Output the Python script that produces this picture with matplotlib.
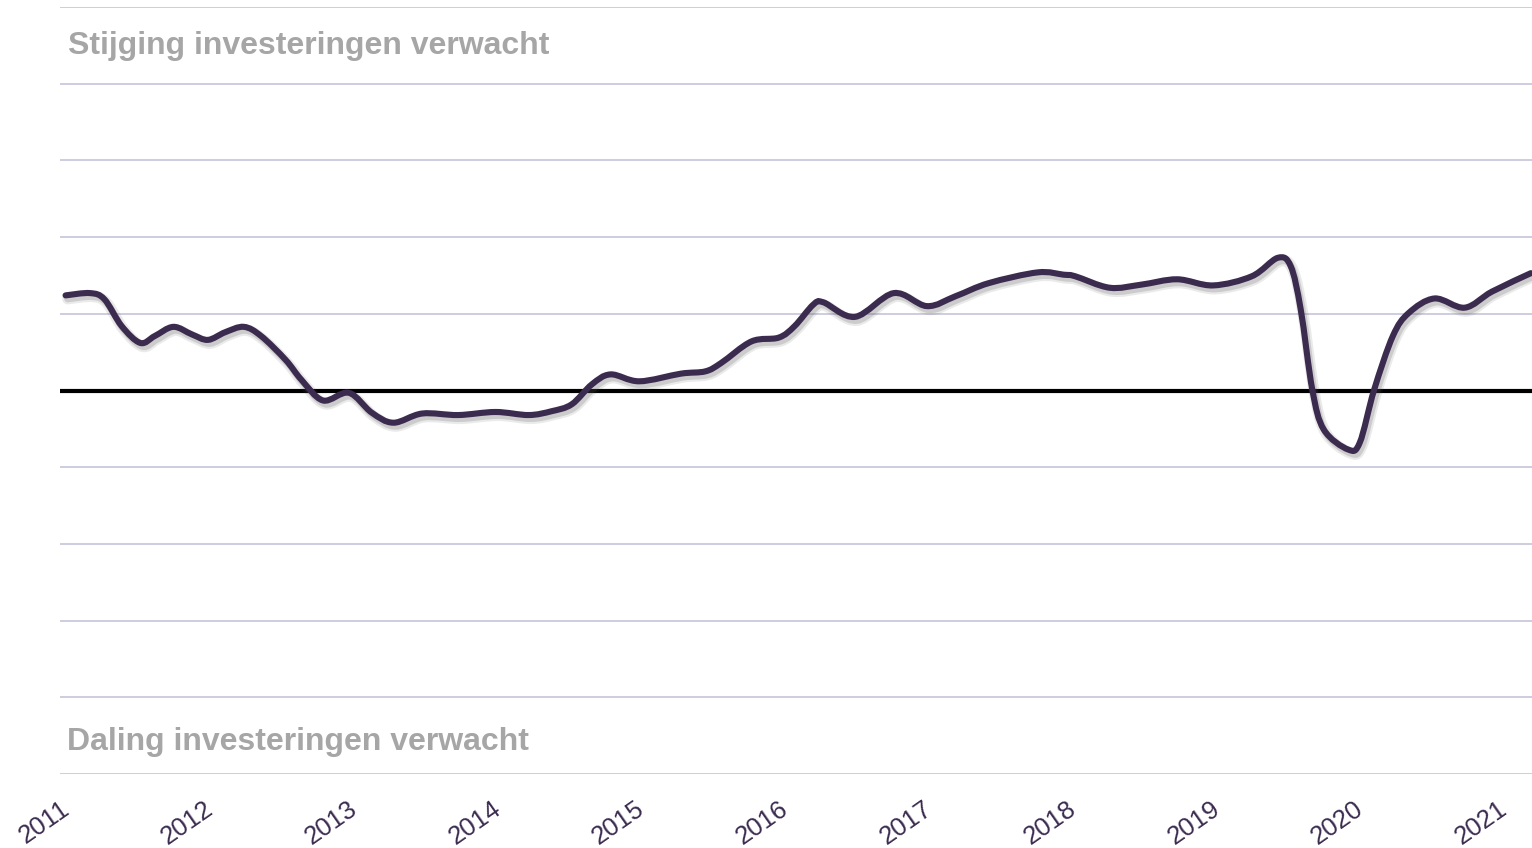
import numpy as np
import matplotlib
matplotlib.use("Agg")
import matplotlib.pyplot as plt
from matplotlib.path import Path
from matplotlib.patches import PathPatch
from matplotlib.transforms import ScaledTranslation
import matplotlib.patheffects as pe

plt.rcParams['font.family'] = ['Liberation Sans', 'DejaVu Sans']

# --- data (decimal year, indicator value) ---
years = [2010.99, 2011.16, 2011.26, 2011.38, 2011.51, 2011.61, 2011.74, 2011.87,
         2011.98, 2012.10, 2012.23, 2012.35, 2012.52, 2012.63, 2012.78, 2012.96,
         2013.12, 2013.27, 2013.47, 2013.72, 2013.98, 2014.21, 2014.37, 2014.51,
         2014.65, 2014.78, 2014.98, 2015.27, 2015.44, 2015.55, 2015.76, 2015.95,
         2016.06, 2016.19, 2016.26, 2016.48, 2016.75, 2016.98, 2017.18, 2017.41,
         2017.75, 2017.93, 2018.01, 2018.25, 2018.47, 2018.72, 2018.97, 2019.24,
         2019.42, 2019.51, 2019.58, 2019.66, 2019.74, 2019.91, 2019.99, 2020.09,
         2020.22, 2020.33, 2020.51, 2020.72, 2020.91, 2021.18]
values = [1.24, 1.27, 1.19, 0.84, 0.62, 0.71, 0.83, 0.73,
          0.66, 0.76, 0.83, 0.71, 0.40, 0.14, -0.13, -0.03,
          -0.29, -0.42, -0.30, -0.32, -0.28, -0.32, -0.27, -0.18,
          0.08, 0.21, 0.12, 0.22, 0.25, 0.36, 0.64, 0.69,
          0.84, 1.12, 1.15, 0.96, 1.27, 1.10, 1.23, 1.40,
          1.54, 1.51, 1.49, 1.34, 1.38, 1.45, 1.37, 1.49,
          1.73, 1.62, 1.05, 0.01, -0.51, -0.77, -0.68, 0.01,
          0.71, 1.01, 1.20, 1.08, 1.29, 1.53]
tick_years = list(range(2011, 2022))
tick_labels = [str(y) for y in tick_years]
label_top = "Stijging investeringen verwacht"
label_bottom = "Daling investeringen verwacht"

LINE_COLOR = '#3b2b4f'
GRID_COLOR = '#c6c4da'
TEXT_GRAY = '#a6a6a6'

fig = plt.figure(figsize=(15.32, 8.48), dpi=100)
ax = fig.add_axes([60/1532, 1-774/848, 1-60/1532, (774-7)/848])

ax.set_xlim(2011 - 7/143.8, 2011 + 1465/143.8)
ax.set_ylim(-5, 5)

for yv in range(-5, 6):
    if yv == 0:
        continue
    ax.axhline(yv, color=GRID_COLOR, lw=1.2, zorder=1)
ax.axhline(0, color='black', lw=3.0, zorder=2)

# smooth line (cubic Bezier through data points)
P = np.column_stack([years, values])
n = len(P)
verts = [P[0]]
codes = [Path.MOVETO]
for i in range(n - 1):
    p0 = P[i - 1] if i > 0 else P[i]
    p1 = P[i]
    p2 = P[i + 1]
    p3 = P[i + 2] if i + 2 < n else P[i + 1]
    c1 = p1 + (p2 - p0) / 6.0
    c2 = p2 - (p3 - p1) / 6.0
    verts += [c1, c2, p2]
    codes += [Path.CURVE4] * 3
path = Path(np.array(verts), codes)
patch = PathPatch(path, facecolor='none', edgecolor=LINE_COLOR, lw=4.4,
                  capstyle='round', joinstyle='round', zorder=3,
                  path_effects=[
                      pe.SimpleLineShadow(offset=(1.5, -2.5), shadow_color='#555555', alpha=0.12, linewidth=8),
                      pe.SimpleLineShadow(offset=(1.5, -2.5), shadow_color='#555555', alpha=0.2, linewidth=5),
                      pe.Normal()])
ax.add_patch(patch)

ax.text(2011.007, 4.39, label_top, color=TEXT_GRAY, fontsize=23,
        fontweight='bold', ha='left', va='baseline', zorder=4)
ax.text(2011.0, -4.69, label_bottom, color=TEXT_GRAY, fontsize=23,
        fontweight='bold', ha='left', va='baseline', zorder=4)

ax.set_xticks(tick_years)
ax.set_xticklabels(tick_labels, rotation=35, ha='right', va='top',
                   rotation_mode='anchor', color=LINE_COLOR, fontsize=18.5)
ax.tick_params(axis='x', length=0, pad=16)
shift = ScaledTranslation(-7/100, 0, fig.dpi_scale_trans)
for lab in ax.get_xticklabels():
    lab.set_transform(lab.get_transform() + shift)
ax.set_yticks([])
for s in ax.spines.values():
    s.set_visible(False)

fig.savefig('out.png', dpi=100)
